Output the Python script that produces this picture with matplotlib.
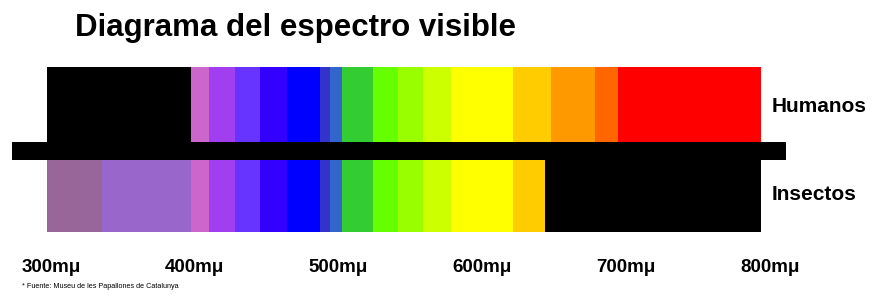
import matplotlib.pyplot as plt

# wavelength band edges (nm) and colours
band_edges = [397, 410, 428, 445, 464, 487, 494, 502, 524, 541, 559, 578, 621, 648, 678, 694, 794]
band_colors = ['#cc66cc', '#a03ef0', '#6633ff', '#3300ff', '#0000ff', '#3333cc', '#3366cc',
               '#33cc33', '#66ff00', '#99ff00', '#ccff00', '#ffff00', '#ffcc00', '#ff9900',
               '#ff6600', '#ff0000']

# humanos: black (UV not seen) then visible bands
human_start = 297
# insectos: UV bands, then visible until cut-off, then black
insect_uv_edges = [297, 335.5, 397]
insect_uv_colors = ['#996699', '#9966cc']
insect_cut = 643.5
insect_end = 794

bar_start, bar_end = 273, 811

tick_values = [300, 400, 500, 600, 700, 800]
tick_labels = ['300', '400', '500', '600', '700', '800']
unit = 'm\u03bc'

fig = plt.figure(figsize=(8.81, 3.02), dpi=100)
ax = fig.add_axes([0, 0, 1, 1])
ax.set_xlim(264.5, 877.2)
ax.set_ylim(302, 0)
ax.axis('off')

# Humanos row
ax.barh(104.5, band_edges[0] - human_start, left=human_start, height=75, color='black')
for i, c in enumerate(band_colors):
    ax.barh(104.5, band_edges[i + 1] - band_edges[i], left=band_edges[i], height=75, color=c)

# separator bar
ax.barh(151, bar_end - bar_start, left=bar_start, height=18, color='black')

# Insectos row
for i, c in enumerate(insect_uv_colors):
    ax.barh(196, insect_uv_edges[i + 1] - insect_uv_edges[i], left=insect_uv_edges[i],
            height=72, color=c)
for i, c in enumerate(band_colors):
    lo = band_edges[i]
    hi = min(band_edges[i + 1], insect_cut)
    if hi > lo:
        ax.barh(196, hi - lo, left=lo, height=72, color=c)
ax.barh(196, insect_end - insect_cut, left=insect_cut, height=72, color='black')

fam = ['Liberation Sans', 'DejaVu Sans']
ax.text(316.5, 28, 'Diagrama del espectro visible', fontsize=22.5, fontweight='bold',
        family=fam, ha='left', va='center')
ax.text(801, 107, 'Humanos', fontsize=15, fontweight='bold', family=fam, va='center')
ax.text(801, 195, 'Insectos', fontsize=15, fontweight='bold', family=fam, va='center')

for v, lab in zip(tick_values, tick_labels):
    ax.text(v, 268, lab + unit, fontsize=13.5, fontweight='bold', family=fam,
            ha='center', va='center')

ax.text(280, 287, '* Fuente: Museu de les Papallones de Catalunya', fontsize=5.2,
        family=fam, va='center')

fig.savefig('out.png', dpi=100)
